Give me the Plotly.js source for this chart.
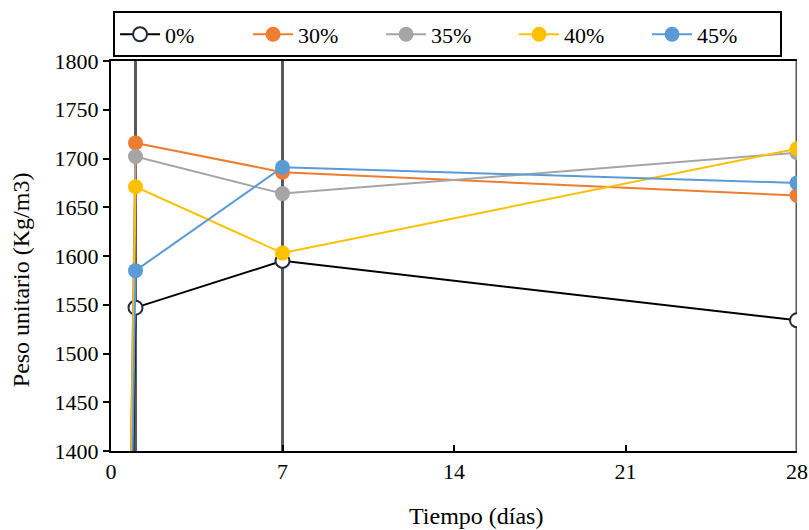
<!DOCTYPE html>
<html><head><meta charset="utf-8">
<script src="https://cdn.plot.ly/plotly-3.0.1.min.js"></script>
<style>body{margin:0;background:#fff}</style>
</head><body><div id="chart" style="width:809px;height:530px"></div>
<script>
const days = [0, 1, 7, 28];
const names = ["0%", "30%", "35%", "40%", "45%"];
const s0 = [0, 1547, 1595, 1534];
const s30 = [0, 1716, 1686, 1662];
const s35 = [0, 1702, 1664, 1706];
const s40 = [0, 1671, 1603, 1710];
const s45 = [0, 1585, 1691, 1675];
const colors = ["#000000", "#ED7D31", "#A5A5A5", "#FFC000", "#5B9BD5"];
const dropX = [1, 7, 28];
const yRange = [1400, 1800];
const xTicks = [0, 7, 14, 21, 28];
const xTitle = "Tiempo (días)";
const yTitle = "Peso unitario (Kg/m3)";

const FAM = '"Liberation Serif", "Times New Roman", serif';
const f = (s) => ({family: FAM, size: s, color: "#000"});

const vx = [], vy = [];
dropX.forEach(d => { vx.push(d, d, null); vy.push(yRange[0], yRange[1], null); });
const traces = [{
  x: vx, y: vy, mode: "lines", line: {color: "#595959", width: 3},
  showlegend: false, hoverinfo: "skip", cliponaxis: true
}];
[s0, s30, s35, s40, s45].forEach((s, i) => {
  traces.push({
    x: days, y: s, name: names[i], mode: "lines+markers",
    line: {color: colors[i], width: 2},
    marker: i === 0
      ? {size: 14, color: "#ffffff", line: {color: "#1f2a3a", width: 2}}
      : {size: 15, color: colors[i], line: {width: 0}},
    cliponaxis: true
  });
});

const layout = {
  width: 809, height: 530,
  margin: {l: 111, r: 12, t: 57, b: 79},
  paper_bgcolor: "#fff", plot_bgcolor: "#fff",
  font: f(22),
  showlegend: true,
  legend: {
    orientation: "h", x: 0.003, xanchor: "left", y: 1.127, yanchor: "top",
    bordercolor: "#000", borderwidth: 2, bgcolor: "#fff",
    font: f(22), entrywidth: 78, entrywidthmode: "pixels",
    itemwidth: 40
  },
  xaxis: {
    range: [0, 28], tickvals: xTicks, ticktext: xTicks.map(String),
    showgrid: false, zeroline: false, showline: true, linecolor: "#000", linewidth: 2,
    mirror: true, ticks: "inside", ticklen: 6, tickcolor: "#000", tickwidth: 1.5,
    tickfont: f(22)
  },
  yaxis: {
    range: yRange, dtick: 50, tick0: 1400,
    showgrid: false, zeroline: false, showline: true, linecolor: "#000", linewidth: 2,
    ticks: "outside", ticklen: 6, tickcolor: "#000", tickwidth: 1.5,
    tickfont: f(22)
  },
  annotations: [
    {text: xTitle, xref: "paper", yref: "paper", x: 0.532, y: -0.1675,
     xanchor: "center", yanchor: "middle", showarrow: false, font: f(24)},
    {text: yTitle, xref: "paper", yref: "paper", x: -0.13, y: 0.44,
     xanchor: "center", yanchor: "middle", showarrow: false, textangle: -90, font: f(24)}
  ]
};
Plotly.newPlot("chart", traces, layout, {displayModeBar: false});
</script></body></html>
